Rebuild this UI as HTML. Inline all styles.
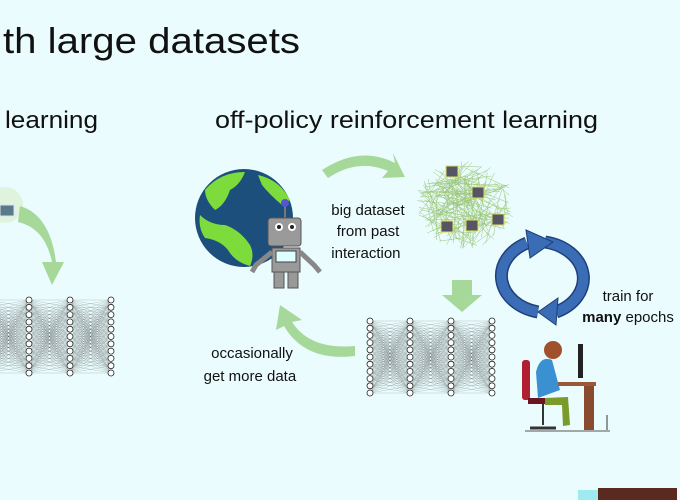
<!DOCTYPE html>
<html><head><meta charset="utf-8"><style>
html,body{margin:0;padding:0;background:#eafcfd;}
svg{display:block;font-family:"Liberation Sans",sans-serif;}
</style></head><body>
<svg id="s" width="680" height="500" viewBox="0 0 680 500" xmlns="http://www.w3.org/2000/svg">
<rect width="680" height="500" fill="#eafcfd"/>
<text x="3" y="53" font-size="36" fill="#111" textLength="297" lengthAdjust="spacingAndGlyphs">th large datasets</text>
<text x="5" y="128" font-size="24" fill="#111" textLength="93" lengthAdjust="spacingAndGlyphs">learning</text>
<text x="215" y="128" font-size="24" fill="#111" textLength="383" lengthAdjust="spacingAndGlyphs">off-policy reinforcement learning</text>

<g opacity="0.6"><circle cx="5" cy="205" r="18" fill="#d8ecc8"/></g>
<rect x="0" y="205" width="14" height="11" fill="#5a7a8a" stroke="#dde" />
<path d="M18,222 Q45,228 52,262 L42,262 L52,285 L64,262 L56,262 Q50,215 20,206 Z" fill="#a6d89a"/>

<circle cx="244" cy="218" r="49" fill="#1d4f7c"/>
<path d="M205,190 Q220,172 245,172 Q240,185 230,190 Q225,205 215,210 Q205,200 205,190Z M200,215 Q210,225 225,225 Q240,230 250,245 Q255,255 250,266 Q235,262 228,250 Q220,240 205,238 Q198,228 200,215Z M258,175 Q280,180 290,200 L282,205 Q270,195 262,185Z" fill="#7ddc3c"/>
<line x1="285" y1="200" x2="285" y2="218" stroke="#777" stroke-width="2"/>
<circle cx="285" cy="203" r="4" fill="#5555cc"/>
<rect x="268" y="218" width="33" height="28" rx="3" fill="#9a9a9a" stroke="#555"/>
<circle cx="279" cy="227" r="4" fill="#fff"/><circle cx="292" cy="227" r="4" fill="#fff"/>
<circle cx="279" cy="227" r="2" fill="#222"/><circle cx="292" cy="227" r="2" fill="#222"/>
<rect x="272" y="248" width="28" height="24" fill="#9a9a9a" stroke="#555"/>
<rect x="276" y="251" width="20" height="11" fill="#dff" stroke="#444"/>
<path d="M272,252 L256,265 L252,272 M300,252 L314,265 L320,272" stroke="#888" stroke-width="5" fill="none"/>
<rect x="274" y="272" width="10" height="16" fill="#999" stroke="#555"/>
<rect x="288" y="272" width="10" height="16" fill="#999" stroke="#555"/>

<path d="M322,170 Q360,145 395,163 L393,153 L405,177 L382,178 L388,171 Q358,158 328,178 Z" fill="#a6d89a"/>
<path d="M355,346 Q310,350 292,322 L302,320 L280,305 L276,330 L284,326 Q305,362 355,356 Z" fill="#a6d89a"/>
<path d="M452,280 L472,280 L472,295 L482,295 L462,312 L442,295 L452,295 Z" fill="#a6d89a"/>

<text font-size="15" fill="#111" text-anchor="middle">
<tspan x="368" y="215">big dataset</tspan><tspan x="368" y="236">from past</tspan><tspan x="368" y="258">interaction</tspan>
<tspan x="252" y="358">occasionally</tspan><tspan x="252" y="381">get more data</tspan>
<tspan x="628" y="301">train for</tspan><tspan x="628" y="322"><tspan font-weight="bold">many</tspan> epochs</tspan>
</text>

<g id="cloud"></g>
<g fill="none" stroke-linecap="butt">
<path d="M538,312 A47,37 0 0 1 527,243" stroke="#1e3f7a" stroke-width="13"/>
<path d="M538,312 A47,37 0 0 1 527,243" stroke="#3a6db5" stroke-width="10"/>
<path d="M545,242 A47,37 0 0 1 556,312" stroke="#1e3f7a" stroke-width="13"/>
<path d="M545,242 A47,37 0 0 1 556,312" stroke="#3a6db5" stroke-width="10"/>
</g>
<polygon points="526,230 530,258 553,242" fill="#3a6db5" stroke="#1e3f7a"/>
<polygon points="558,298 556,325 538,312" fill="#3a6db5" stroke="#1e3f7a"/>

<g id="nets"></g>
<rect x="522" y="360" width="8" height="40" rx="3" fill="#b02030"/>
<rect x="528" y="398" width="30" height="6" fill="#6a1520"/>
<line x1="543" y1="404" x2="543" y2="425" stroke="#333" stroke-width="2"/>
<line x1="530" y1="428" x2="556" y2="428" stroke="#333" stroke-width="3"/>
<path d="M536,372 Q540,355 552,360 L560,390 L538,398 Z" fill="#3a90d0"/>
<circle cx="553" cy="350" r="9" fill="#a0502a"/>
<path d="M545,398 L568,397 L570,425 L563,426 L562,405 L545,405Z" fill="#7a9a2a"/>
<rect x="558" y="382" width="38" height="4" fill="#9a5a3a"/>
<rect x="584" y="386" width="10" height="44" fill="#8a4a30"/>
<rect x="578" y="344" width="5" height="34" fill="#222"/>
<line x1="525" y1="431" x2="610" y2="431" stroke="#555"/>
<line x1="607" y1="430" x2="607" y2="415" stroke="#333"/>
<rect x="578" y="490" width="20" height="10" fill="#9fe9f0"/>
<rect x="598" y="488" width="79" height="12" fill="#5a2a20"/>
</svg>
<script>
function net(xs,y0,y1,n){
 var s="";
 for(var c=0;c<xs.length-1;c++)for(var i=0;i<n;i++)for(var j=0;j<n;j++){
  var ya=y0+(y1-y0)*i/(n-1),yb=y0+(y1-y0)*j/(n-1);
  s+='<line x1="'+xs[c]+'" y1="'+ya+'" x2="'+xs[c+1]+'" y2="'+yb+'" stroke="#444" stroke-width="0.25" opacity="0.6"/>';}
 for(var c=0;c<xs.length;c++)for(var i=0;i<n;i++){
  s+='<circle cx="'+xs[c]+'" cy="'+(y0+(y1-y0)*i/(n-1))+'" r="3" fill="#fff" stroke="#222" stroke-width="0.8"/>';}
 return s;}
document.getElementById("nets").innerHTML=net([-12,29,70,111],300,373,11)+net([370,410,451,492],321,393,11);
var c="",r=1;function rnd(){r=(r*9301+49297)%233280;return r/233280;}
for(var i=0;i<160;i++){var a=rnd()*6.28,d=Math.sqrt(rnd())*48;
var x=465+Math.cos(a)*d*1.05,y=205+Math.sin(a)*d*0.92;var a2=rnd()*6.28,d2=Math.sqrt(rnd())*48;
c+='<line x1="'+x+'" y1="'+y+'" x2="'+(465+Math.cos(a2)*d2)+'" y2="'+(205+Math.sin(a2)*d2*0.92)+'" stroke="#9cc77a" stroke-width="0.5"/>';}
[[452,172],[478,193],[447,227],[472,226],[498,220]].forEach(function(p){c+='<rect x="'+(p[0]-6)+'" y="'+(p[1]-6)+'" width="12" height="11" fill="#556" stroke="#dd5"/>';});
document.getElementById("cloud").innerHTML=c;
</script>
</body></html>
